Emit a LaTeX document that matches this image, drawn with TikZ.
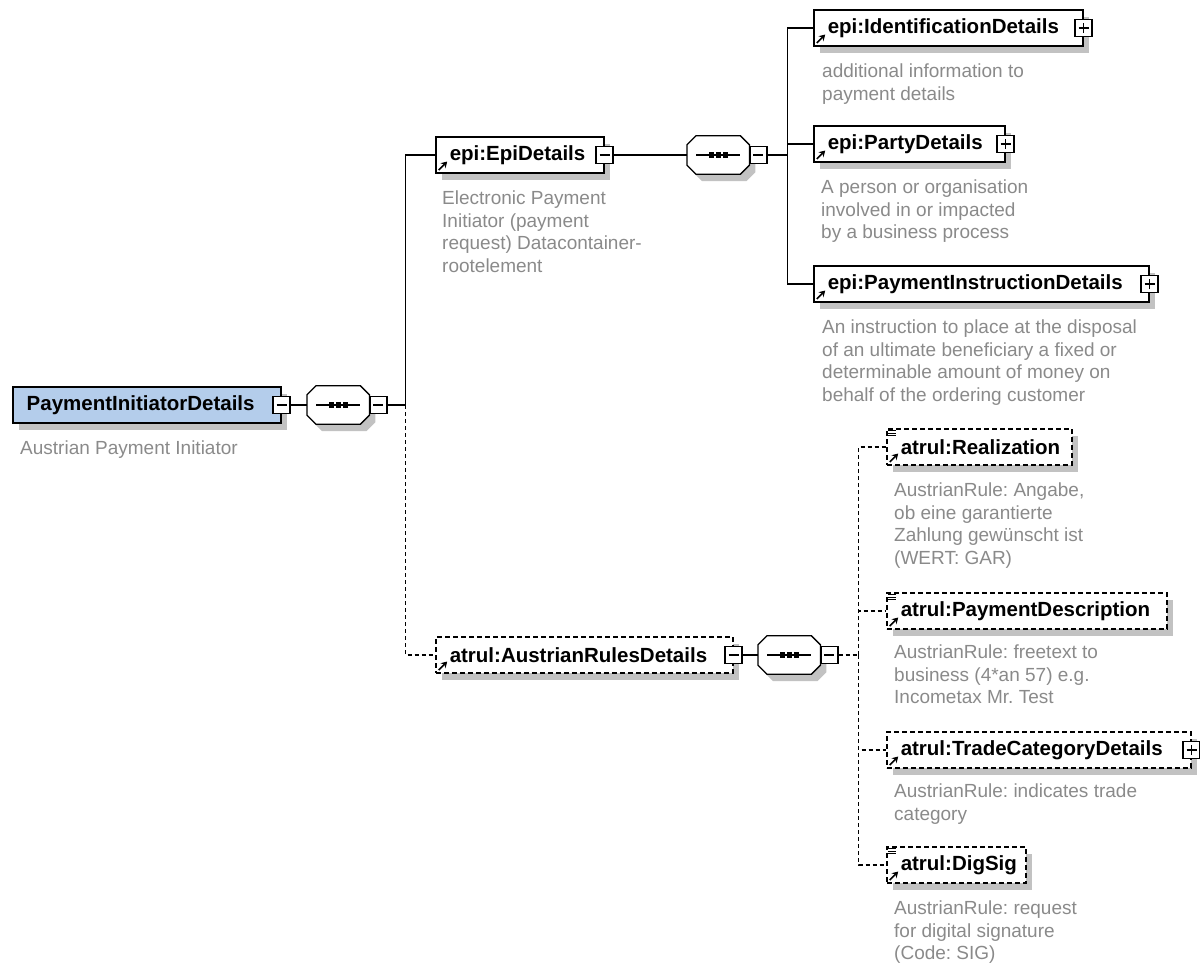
\documentclass[tikz,border=0pt]{standalone}
\usepackage{fontspec}
\setmainfont{Liberation Sans}
\usetikzlibrary{positioning,shadows,arrows.meta}
\definecolor{desctext}{HTML}{8A8A8A}
\definecolor{rootblue}{HTML}{B4CDEB}
\definecolor{shadegray}{HTML}{C2C2C2}
\frenchspacing

\begin{document}
\begin{tikzpicture}[x=1pt,y=-1pt,
    conn/.style={line width=1.3pt},
    optline/.style={conn,dash pattern=on 4pt off 3pt},
    dropshade/.style={drop shadow={shadow xshift=6pt,shadow yshift=-7pt,fill=shadegray,opacity=1}},
    elbox/.style={draw,line width=1.5pt,fill=white,dropshade,anchor=west,minimum height=36pt,
        inner xsep=14pt,inner ysep=0pt,align=left,text width=#1,font=\fontsize{20.5}{24}\selectfont\bfseries},
    elem/.style={elbox=#1,path picture={\draw[solid,line width=1.6pt,-{Stealth[length=6pt,width=7pt]}]
        ([shift={(3pt,3pt)}]path picture bounding box.south west)--++(8.5pt,8.5pt);}},
    optelem/.style={elem=#1,dash pattern=on 5pt off 3pt},
    seq/.style={rectangle,anchor=west,minimum width=62pt,minimum height=38pt,inner sep=0pt},
    minusbox/.style={draw,line width=1.1pt,fill=white,minimum size=17pt,inner sep=0pt,
        path picture={\draw[line width=1.1pt]([xshift=-5pt]path picture bounding box.center)--([xshift=5pt]path picture bounding box.center);}},
    plusbox/.style={minusbox,
        path picture={\draw[line width=1.1pt]([xshift=-5pt]path picture bounding box.center)--([xshift=5pt]path picture bounding box.center);
            \draw[line width=1.1pt]([yshift=-5pt]path picture bounding box.center)--([yshift=5pt]path picture bounding box.center);}},
    desc/.style={anchor=north west,inner sep=0pt,align=left,text=desctext,font=\fontsize{19}{22.5}\selectfont}]
    \useasboundingbox(0,0)rectangle(1200,967);

    \node[elbox=240pt,fill=rootblue](root)at(12,405){PaymentInitiatorDetails};
    \node[desc,below right=17pt and 8pt of root.south west](rootd){Austrian Payment Initiator};
    \node[seq](s0)at(307,405){};

    \node[elem=140pt](epi)at(435,155){epi:EpiDetails};
    \node[desc,below right=17pt and 7pt of epi.south west](epid){Electronic Payment\\Initiator (payment\\request) Datacontainer-\\rootelement};
    \node[seq](s1)at(687,155){};

    \node[elem=241pt](ident)at(813,28){epi:IdentificationDetails};
    \node[desc,below right=17pt and 9pt of ident.south west](identd){additional information to\\payment details};
    \node[elem=163pt](party)at(813,144){epi:PartyDetails};
    \node[desc,below right=17pt and 8pt of party.south west](partyd){A person or organisation\\involved in or impacted\\by a business process};
    \node[elem=307pt](payinst)at(813,284){epi:PaymentInstructionDetails};
    \node[desc,below right=17pt and 9pt of payinst.south west](payinstd){An instruction to place at the disposal\\of an ultimate beneficiary a fixed or\\determinable amount of money on\\behalf of the ordering customer};

    \node[optelem=269pt](aus)at(435,655){atrul:AustrianRulesDetails};
    \node[seq](s2)at(758,655){};

    \node[optelem=157pt](real)at(886,447){atrul:Realization};
    \node[desc,below right=17pt and 8pt of real.south west](reald){AustrianRule: Angabe,\\ob eine garantierte\\Zahlung gewünscht ist\\(WERT: GAR)};
    \node[optelem=252pt](paydesc)at(886,611){atrul:PaymentDescription};
    \node[desc,below right=15pt and 8pt of paydesc.south west](paydescd){AustrianRule: freetext to\\business (4*an 57) e.g.\\Incometax Mr. Test};
    \node[optelem=276pt](trade)at(886,750){atrul:TradeCategoryDetails};
    \node[desc,below right=15pt and 8pt of trade.south west](traded){AustrianRule: indicates trade\\category};
    \node[optelem=111pt](digsig)at(886,865){atrul:DigSig};
    \node[desc,below right=17pt and 8pt of digsig.south west](digsigd){AustrianRule: request\\for digital signature\\(Code: SIG)};

    \foreach \s in {s0,s1,s2}{
        \draw[line width=1.3pt,fill=white,dropshade]([xshift=9pt]\s.north west)--([xshift=-9pt]\s.north east)
            --([yshift=-9pt]\s.north east)--([yshift=9pt]\s.south east)--([xshift=-9pt]\s.south east)
            --([xshift=9pt]\s.south west)--([yshift=9pt]\s.south west)--([yshift=-9pt]\s.north west)--cycle;
        \draw[line width=1.2pt]([xshift=-22pt]\s.center)--([xshift=22pt]\s.center);
        \foreach \dx in {-7,0,7}
            \fill([shift={(\dx pt,0pt)}]\s.center)+(-2.6pt,-2.6pt)rectangle+(2.6pt,2.6pt);
    }
    \node[minusbox](rootm)at(root.east){};
    \node[minusbox,anchor=west](s0m)at(s0.east){};
    \node[minusbox](epim)at(epi.east){};
    \node[minusbox,anchor=west](s1m)at(s1.east){};
    \node[plusbox](identp)at(ident.east){};
    \node[plusbox](partyp)at(party.east){};
    \node[plusbox](payinstp)at(payinst.east){};
    \node[minusbox](ausm)at(aus.east){};
    \node[minusbox,anchor=west](s2m)at(s2.east){};
    \node[plusbox](tradep)at(trade.east){};

    \foreach \n in {real,paydesc,digsig}
        \foreach \y in {2.5,5,7.5}
            \draw[line width=1pt]([shift={(2pt,-\y pt)}]\n.north west)--++(8pt,0pt);

    \draw[conn](rootm.east)--(s0.west);
    \draw[conn](s0m.east)--++(18pt,0pt)coordinate(t0);
    \draw[conn](t0)|-(epi.west);
    \draw[optline](t0)|-(aus.west);

    \draw[conn](epim.east)--(s1.west);
    \draw[conn](s1m.east)--++(20pt,0pt)coordinate(t1);
    \draw[conn](t1)|-(ident.west);
    \draw[conn](t1)|-(party.west);
    \draw[conn](t1)|-(payinst.west);

    \draw[conn](ausm.east)--(s2.west);
    \draw[optline](s2m.east)--++(20pt,0pt)coordinate(t2);
    \draw[optline](t2)|-(real.west);
    \draw[optline](t2)|-(paydesc.west);
    \draw[optline](t2)|-(trade.west);
    \draw[optline](t2)|-(digsig.west);
\end{tikzpicture}
\end{document}
